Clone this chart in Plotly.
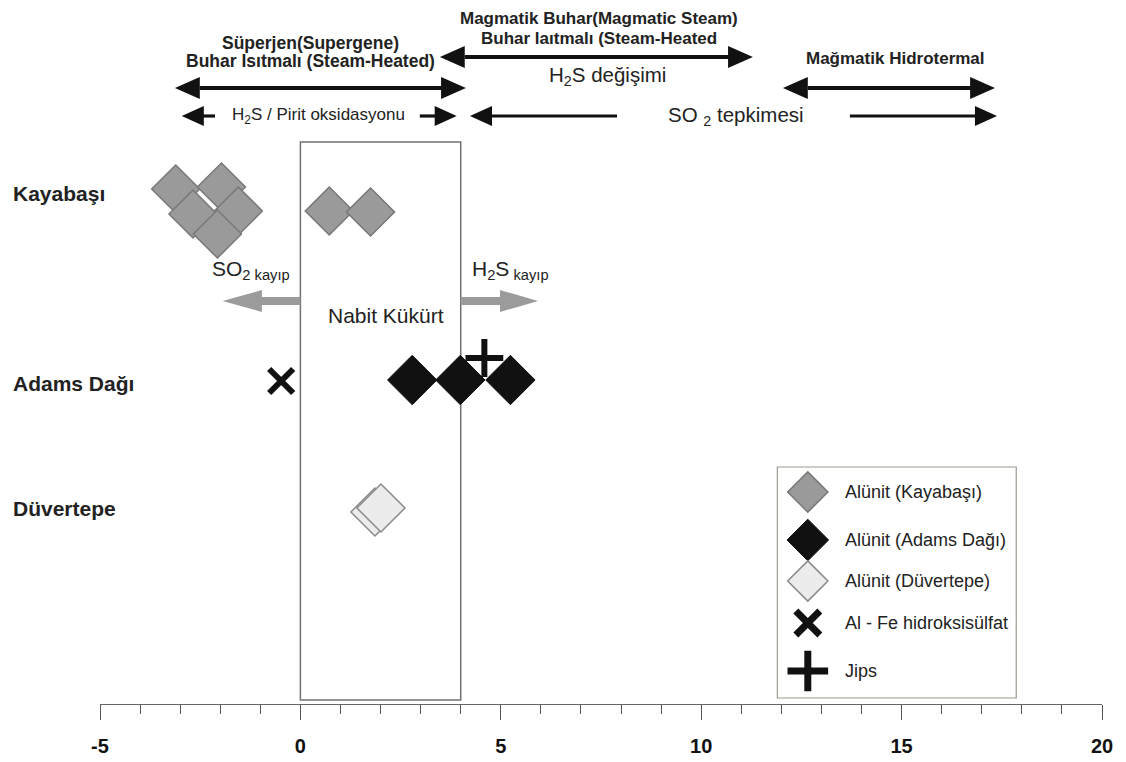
import plotly.graph_objects as go

# ---------------- data ----------------
# delta 34S values (x) and row position (y) for each sample
kayabasi_x = [-3.11, -1.97, -2.68, -1.55, -2.07, 0.72, 1.75]
kayabasi_y = [5.15, 5.17, 4.90, 4.93, 4.70, 4.93, 4.92]

adams_alunit_x = [2.79, 3.99, 5.24]
adams_alunit_y = [3.24, 3.24, 3.24]

adams_alfe_x = [-0.48]
adams_alfe_y = [3.23]

adams_jips_x = [4.59]
adams_jips_y = [3.46]

duvertepe_x = [1.86, 2.01]
duvertepe_y = [1.92, 1.96]

row_labels = ["Kayabaşı", "Adams Dağı", "Düvertepe"]
row_label_y = [5.11, 3.21, 1.96]

x_tick_vals = [-5, 0, 5, 10, 15, 20]
x_tick_text = ["-5", "0", "5", "10", "15", "20"]

legend_labels = ["Alünit (Kayabaşı)", "Alünit (Adams Dağı)", "Alünit (Düvertepe)",
                 "Al - Fe hidroksisülfat", "Jips"]

# native sulfur field
nabit_x0, nabit_x1 = 0, 4

# ---------------- styles ----------------
FONT = "Liberation Sans, Arial, sans-serif"
AXFONT = "Liberation Sans Narrow, Arial Narrow, Liberation Sans, Arial, sans-serif"
GRAY_FILL = "#9a9a9a"
GRAY_LINE = "#787878"
LIGHT_FILL = "#ececec"
LIGHT_LINE = "#8a8a8a"
BLACK = "#111111"
TXT = "#222222"

fig = go.Figure()

def add_markers(x, y, symbol, size, color, lcolor, lwidth):
    fig.add_trace(go.Scatter(
        x=x, y=y, mode="markers", showlegend=False, hoverinfo="skip",
        marker=dict(symbol=symbol, size=size, color=color,
                    line=dict(color=lcolor, width=lwidth))))

add_markers(kayabasi_x, kayabasi_y, "diamond", 37, GRAY_FILL, GRAY_LINE, 1.5)
add_markers(adams_alunit_x, adams_alunit_y, "diamond", 38, BLACK, BLACK, 1)
add_markers(adams_jips_x, adams_jips_y, "cross-thin-open", 27, BLACK, BLACK, 6)
add_markers(adams_alfe_x, adams_alfe_y, "x-thin-open", 24, BLACK, BLACK, 6)
add_markers(duvertepe_x, duvertepe_y, "diamond", 37, LIGHT_FILL, LIGHT_LINE, 1.5)

shapes = []
annotations = []

# ---------------- custom legend ----------------
leg_x_marker = 12.66
leg_x_text = 13.55
leg_rows_y = [2.12, 1.64, 1.23, 0.81, 0.33]
leg_styles = [
    ("diamond", 31, GRAY_FILL, GRAY_LINE, 1.5),
    ("diamond", 32, BLACK, BLACK, 1),
    ("diamond", 31, LIGHT_FILL, LIGHT_LINE, 1.5),
    ("x-thin-open", 24, BLACK, BLACK, 7),
    ("cross-thin-open", 29, BLACK, BLACK, 7),
]
shapes.append(dict(type="rect", xref="x", yref="y", x0=11.90, x1=17.86, y0=0.06, y1=2.37,
                   line=dict(color="#9b9b8c", width=1.2), fillcolor="white", layer="below"))
for lab, ly, st in zip(legend_labels, leg_rows_y, leg_styles):
    add_markers([leg_x_marker], [ly], *st)
    annotations.append(dict(x=leg_x_text, y=ly, xref="x", yref="y", text=lab, showarrow=False,
                            xanchor="left", yanchor="middle",
                            font=dict(family=FONT, size=18, color=TXT)))

# ---------------- Nabit Kükürt box ----------------
shapes.append(dict(type="rect", xref="x", yref="y", x0=nabit_x0, x1=nabit_x1, y0=0.04, y1=5.62,
                   line=dict(color="#707070", width=1.5), layer="below"))

# grey loss arrows (SO2 loss to the left, H2S loss to the right)
def grey_arrow(x_start, x_base, x_tip, yc):
    return dict(type="path", xref="x", yref="y", fillcolor="#9b9b9b", line=dict(width=0),
                path=(f"M {x_start},{yc+0.04} L {x_base},{yc+0.04} L {x_base},{yc+0.11} "
                      f"L {x_tip},{yc} L {x_base},{yc-0.11} L {x_base},{yc-0.04} "
                      f"L {x_start},{yc-0.04} Z"))

shapes.append(grey_arrow(nabit_x0, -0.96, -1.94, 4.03))
shapes.append(grey_arrow(nabit_x1, 4.98, 5.93, 4.03))

# ---------------- row labels ----------------
for lab, y in zip(row_labels, row_label_y):
    annotations.append(dict(x=-0.0885, y=y, xref="paper", yref="y", text=lab, showarrow=False,
                            xanchor="left", yanchor="middle",
                            font=dict(family=FONT, size=21, color=TXT, weight="bold")))

# ---------------- top texts ----------------
def txt(x, y, s, size, bold=False, xanchor="center"):
    annotations.append(dict(x=x, y=y, xref="x", yref="y", text=s, showarrow=False,
                            xanchor=xanchor, yanchor="middle",
                            font=dict(family=FONT, size=size, color=TXT,
                                      weight="bold" if bold else "normal")))

txt(7.45, 6.86, "Magmatik Buhar(Magmatic Steam)", 17, True)
txt(7.45, 6.66, "Buhar laıtmalı (Steam-Heated", 17, True)
txt(0.24, 6.61, "Süperjen(Supergene)", 17.5, True)
txt(0.26, 6.43, "Buhar Isıtmalı (Steam-Heated)", 17.5, True)
txt(7.65, 6.28, "H<sub>2</sub>S değişimi", 20.5)
txt(14.86, 6.46, "Mağmatik Hidrotermal", 17, True)
txt(0.46, 5.88, "H<sub>2</sub>S / Pirit oksidasyonu", 17)
txt(10.87, 5.88, "SO <sub>2</sub> tepkimesi", 20.5)
txt(2.13, 3.89, "Nabit Kükürt", 21)
txt(-1.23, 4.34, "SO<sub>2 kayıp</sub>", 21)
txt(5.25, 4.34, "H<sub>2</sub>S<sub> kayıp</sub>", 21)

# ---------------- black arrows (shaft + triangular heads) ----------------
def head(x_tip, x_base, y, hh):
    return dict(type="path", xref="x", yref="y", fillcolor=BLACK, line=dict(width=0),
                path=f"M {x_tip},{y} L {x_base},{y+hh} L {x_base},{y-hh} Z")

def arrow(x_head, x_tail, y, both, lw, hl, hh):
    d = 1 if x_head > x_tail else -1
    base = x_head - d * hl
    start = x_tail
    shapes.append(head(x_head, base, y, hh))
    if both:
        start = x_tail + d * hl
        shapes.append(head(x_tail, start, y, hh))
    shapes.append(dict(type="line", xref="x", yref="y", x0=start, x1=base + d * 0.05, y0=y, y1=y,
                       line=dict(color=BLACK, width=lw)))

arrow(4.13, -3.13, 6.16, True, 4, 0.62, 0.11)
arrow(11.29, 3.48, 6.47, True, 4, 0.62, 0.11)
arrow(17.33, 12.04, 6.16, True, 4, 0.62, 0.11)
arrow(-2.96, -2.13, 5.88, False, 3.2, 0.55, 0.10)
arrow(3.90, 2.98, 5.88, False, 3.2, 0.55, 0.10)
arrow(4.23, 7.90, 5.88, False, 3.2, 0.55, 0.10)
arrow(17.38, 13.71, 5.88, False, 3.2, 0.55, 0.10)

fig.update_layout(
    width=1126, height=762,
    margin=dict(l=100, r=24, t=0, b=58),
    paper_bgcolor="white", plot_bgcolor="white",
    shapes=shapes, annotations=annotations,
    xaxis=dict(range=[-5, 20], showgrid=False, zeroline=False,
               showline=True, linecolor="#666666", linewidth=1.2,
               ticks="outside", ticklen=15, tickwidth=1.2, tickcolor="#555555",
               tickvals=x_tick_vals, ticktext=x_tick_text,
               tickfont=dict(family=AXFONT, size=20, color=BLACK, weight="bold"),
               ticklabelstandoff=9,
               minor=dict(ticks="outside", ticklen=9, tickwidth=1.2, tickcolor="#555555",
                          dtick=1, showgrid=False)),
    yaxis=dict(range=[0, 7.04], visible=False, fixedrange=True),
)

fig.write_html("out.html")
